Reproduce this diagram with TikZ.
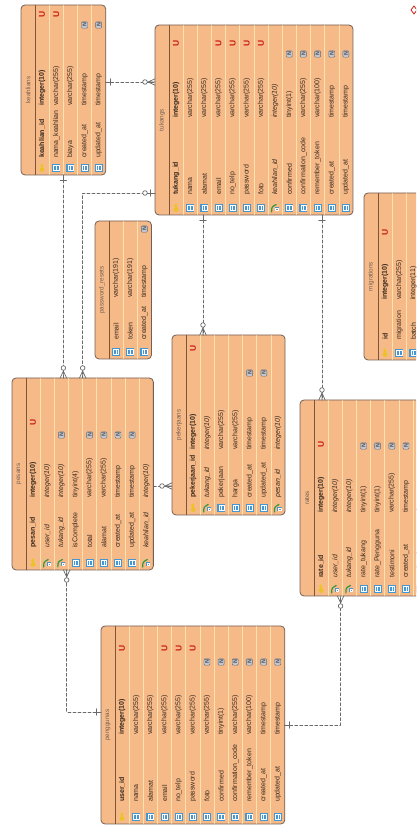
\documentclass[tikz,border=0pt]{standalone}
\usepackage{fontspec}
\setmainfont{Liberation Sans}
\usepackage{xcolor}
\usetikzlibrary{calc}

\definecolor{erdfill}{RGB}{246,186,136}
\definecolor{erdedge}{RGB}{115,95,85}
\definecolor{erdrowline}{RGB}{252,226,172}
\definecolor{erdhead}{RGB}{125,85,55}
\definecolor{erdtxt}{RGB}{55,40,30}
\definecolor{erdblue}{RGB}{70,150,210}
\definecolor{erdkey}{RGB}{235,195,40}
\definecolor{erdgreen}{RGB}{50,150,60}
\definecolor{erdred}{RGB}{200,30,20}
\definecolor{erdnull}{RGB}{190,198,212}
\definecolor{erdlink}{RGB}{105,105,105}

% header band and row width
\newcommand{\erdhd}{14}
\newcommand{\erdrw}{14.15}

\tikzset{
  erdbox/.style={draw=erdedge, fill=erdfill, line width=0.8pt, rounded corners=4pt, inner sep=0pt, outer sep=0pt},
  erdtext/.style={text=erdtxt, font=\fontsize{7}{7}\selectfont, inner sep=0pt},
  erdtitle/.style={text=erdedge, font=\fontsize{6.3}{7}\selectfont, inner sep=0pt},
  txtpk/.style={font=\fontsize{7}{7}\selectfont\bfseries},
  txtfk/.style={font=\fontsize{7}{7}\selectfont\itshape},
  txtcol/.style={},
  rel/.style={draw=erdlink, line width=0.7pt, dash pattern=on 3pt off 2pt},
  relend/.style={draw=erdlink, line width=0.7pt},
  % column icons
  pics/col/.style={code={
    \fill[erdblue] (-4,-3.6) rectangle (4,3.6);
    \draw[white, line width=0.45pt] (-2.6,-2.4) rectangle (2.6,2.4) (0,-2.4) -- (0,2.4);
  }},
  pics/pk/.style={code={
    \fill[erdkey] (0,-1.5) circle (2.4);
    \draw[erdkey, line width=1.3pt] (0,-1.5) -- (0,4) (0,2.6) -- (-2,2.6);
  }},
  pics/fk/.style={code={
    \draw[erdgreen, line width=1.2pt] (-3.5,-4) .. controls (-3.5,1) .. (1,3.5);
    \fill[erdblue] (-0.5,-3.5) rectangle (4,1);
    \draw[white, line width=0.4pt] (0.5,-2.6) rectangle (3,0.2);
  }},
  % flags
  pics/flagU/.style={code={
    \node[text=erdred, font=\fontsize{8.5}{8}\selectfont\bfseries, inner sep=0pt, rotate=90] (-u) at (0,\erdU) {U};
  }},
  pics/flagN/.style={code={
    \node[draw=gray!80!black, fill=erdnull, rounded corners=1pt, line width=0.4pt, text=black!70,
      font=\fontsize{5.5}{5}\selectfont\bfseries, inner sep=0pt, minimum width=6.5pt, minimum height=6pt,
      rotate=90] (-n) at (0,\erdN) {N};
  }},
  pics/flagx/.style={code={}},
  % relation ends
  pics/zmany/.style={code={
    \draw[relend] (0,-3.2) -- (7,0) -- (0,3.2) (0,0) -- (7.7,0);
    \draw[relend, fill=white] (10,0) circle (2.3);
  }},
  pics/zone/.style={code={
    \draw[relend] (0,0) -- (7.7,0) (5,-3.2) -- (5,3.2);
    \draw[relend, fill=white] (10,0) circle (2.3);
  }},
  pics/onebar/.style={code={
    \draw[relend] (0,0) -- (6,0) (5,-3.2) -- (5,3.2);
  }},
}

% #1 name, #2 left x, #3 bottom y, #4 length, #5 name col, #6 type col,
% #7 N col, #8 U col, #9 rows icon/name/type/flag
\newcommand{\erdtable}[9]{%
  \foreach \ic/\nm/\ty/\fl [count=\k] in {#9} {\xdef\erdn{\k}}%
  \pgfmathsetmacro\erdlen{\erdhd+\erdn*\erdrw}%
  \def\erdN{#7}\def\erdU{#8}%
  \node[erdbox, anchor=south west, minimum width=\erdlen pt, minimum height=#4pt] (#1) at (#2,#3) {};
  \node[erdtitle, rotate=90] (#1-title) at ({#2+\erdhd/2},{#3+#4/2}) {\detokenize{#1}};
  \foreach \ic/\nm/\ty/\fl [count=\k] in {#9} {
    \pgfmathsetmacro\xc{#2+\erdhd+(\k-0.5)*\erdrw}
    \pgfmathsetmacro\xs{#2+\erdhd+\k*\erdrw}
    \ifnum\k<\erdn \draw[erdrowline, line width=0.6pt] (\xs,#3+0.6) -- (\xs,#3+#4-0.6); \fi
    \pic at (\xc,#3+7) {\ic};
    \node[erdtext, txt\ic, rotate=90, anchor=west] (#1-n\k) at (\xc,#3+#5) {\nm};
    \node[erdtext, txt\ic, rotate=90, anchor=west] (#1-t\k) at (\xc,#3+#6) {\ty};
    \pic (#1-f\k) at (\xc,#3) {flag\fl};
  }
  \draw[erdhead, line width=0.8pt] (#2+\erdhd,#3+0.4) -- (#2+\erdhd,#3+#4-0.4);
}

\begin{document}
\begin{tikzpicture}[x=1pt, y=1pt, line cap=round, line join=round]
  \useasboundingbox (0,0) rectangle (416,825);
  \clip (0,0) rectangle (416,825);

  % tables
  \erdtable{keahlians}{21}{650}{170}{17}{69}{150}{161}{
    pk/keahlian\_id/integer(10)/U, col/nama\_keahlian/varchar(255)/U,
    col/biaya/varchar(255)/x, col/created\_at/timestamp/N, col/updated\_at/timestamp/N}
  \erdtable{tukangs}{155}{610}{190}{20}{97}{161}{172}{
    pk/tukang\_id/integer(10)/U, col/nama/varchar(255)/x, col/alamat/varchar(255)/x,
    col/email/varchar(255)/U, col/no\_telp/varchar(255)/U, col/password/varchar(255)/U,
    col/foto/varchar(255)/U, fk/keahlian\_id/integer(10)/x, col/confirmed/tinyint(1)/N,
    col/confirmation\_code/varchar(255)/N, col/remember\_token/varchar(100)/N,
    col/created\_at/timestamp/N, col/updated\_at/timestamp/N}
  \erdtable{password_resets}{95}{466}{138}{19}{61}{130}{130}{
    col/email/varchar(191)/x, col/token/varchar(191)/x, col/created\_at/timestamp/N}
  \erdtable{migrations}{364}{465}{167}{20}{60}{128}{128}{
    pk/id/integer(10)/U, col/migration/varchar(255)/x, col/batch/integer(11)/x}
  \erdtable{pesans}{12}{255}{192}{22}{72}{135}{148}{
    pk/pesan\_id/integer(10)/U, fk/user\_id/integer(10)/x, fk/tukang\_id/integer(10)/N,
    col/isComplete/tinyint(4)/x, col/total/varchar(255)/N, col/alamat/varchar(255)/N,
    col/created\_at/timestamp/N, col/updated\_at/timestamp/N, fk/keahlian\_id/integer(10)/x}
  \erdtable{pekerjaans}{172}{310}{180}{17}{65}{142}{167}{
    pk/pekerjaan\_id/integer(10)/U, fk/tukang\_id/integer(10)/x, col/pekerjaan/varchar(255)/x,
    col/harga/varchar(255)/x, col/created\_at/timestamp/N, col/updated\_at/timestamp/N,
    fk/pesan\_id/integer(10)/x}
  \erdtable{rates}{300}{229}{196}{18}{83}{150}{152}{
    pk/rate\_id/integer(10)/U, fk/user\_id/integer(10)/x, fk/tukang\_id/integer(10)/x,
    col/rate\_tukang/tinyint(1)/N, col/rate\_Pengguna/tinyint(1)/N, col/testimoni/varchar(255)/N,
    col/created\_at/timestamp/N, col/updated\_at/timestamp/N}
  \erdtable{penggunas}{101}{1}{198}{22}{89}{162}{176}{
    pk/user\_id/integer(10)/U, col/nama/varchar(255)/x, col/alamat/varchar(255)/x,
    col/email/varchar(255)/U, col/no\_telp/varchar(255)/U, col/password/varchar(255)/U,
    col/foto/varchar(255)/N, col/confirmed/tinyint(1)/N, col/confirmation\_code/varchar(255)/N,
    col/remember\_token/varchar(100)/N, col/created\_at/timestamp/N, col/updated\_at/timestamp/N}

  % relations
  \draw[rel] ([yshift=8pt]keahlians.east) coordinate (r1a) -- (r1a -| tukangs.west) coordinate (r1b);
  \draw[rel] (keahlians.south) coordinate (r2a) -- (r2a |- pesans.north) coordinate (r2b);
  \draw[rel] ([yshift=-73pt]tukangs.west) coordinate (r3a) -| (pesans.north) coordinate (r3b);
  \draw[rel] ([xshift=-51pt]tukangs.south) coordinate (r4a) -- (r4a |- pekerjaans.north) coordinate (r4b);
  \draw[rel] ([xshift=68pt]tukangs.south) coordinate (r5a) -- (r5a |- rates.north) coordinate (r5b);
  \draw[rel] ([yshift=-12pt]pesans.east) coordinate (r6a) -- (r6a -| pekerjaans.west) coordinate (r6b);
  \draw[rel] ([yshift=13pt]penggunas.west) coordinate (r7a) -| ([xshift=-16pt]pesans.south) coordinate (r7b);
  \draw[rel] (penggunas.east) coordinate (r8a) -| ([xshift=-23pt]rates.south) coordinate (r8b);

  \pic at (r1a) {onebar};
  \pic[rotate=180] at (r1b) {zmany};
  \pic[rotate=-90] at (r2a) {onebar};
  \pic[rotate=90] at (r2b) {zmany};
  \pic[rotate=180] at (r3a) {zone};
  \pic[rotate=90] at (r3b) {zmany};
  \pic[rotate=-90] at (r4a) {onebar};
  \pic[rotate=90] at (r4b) {zmany};
  \pic[rotate=-90] at (r5a) {onebar};
  \pic[rotate=90] at (r5b) {zmany};
  \pic[rotate=180] at (r6b) {zmany};
  \pic[rotate=180] at (r7a) {onebar};
  \pic[rotate=-90] at (r7b) {zmany};
  \pic at (r8a) {onebar};
  \pic[rotate=-90] at (r8b) {zmany};

  % mark cut at the right edge
  \draw[erdred, line width=0.8pt] (414,819) -- (417,815) -- (414,811) -- (411,815) -- cycle;
\end{tikzpicture}
\end{document}
